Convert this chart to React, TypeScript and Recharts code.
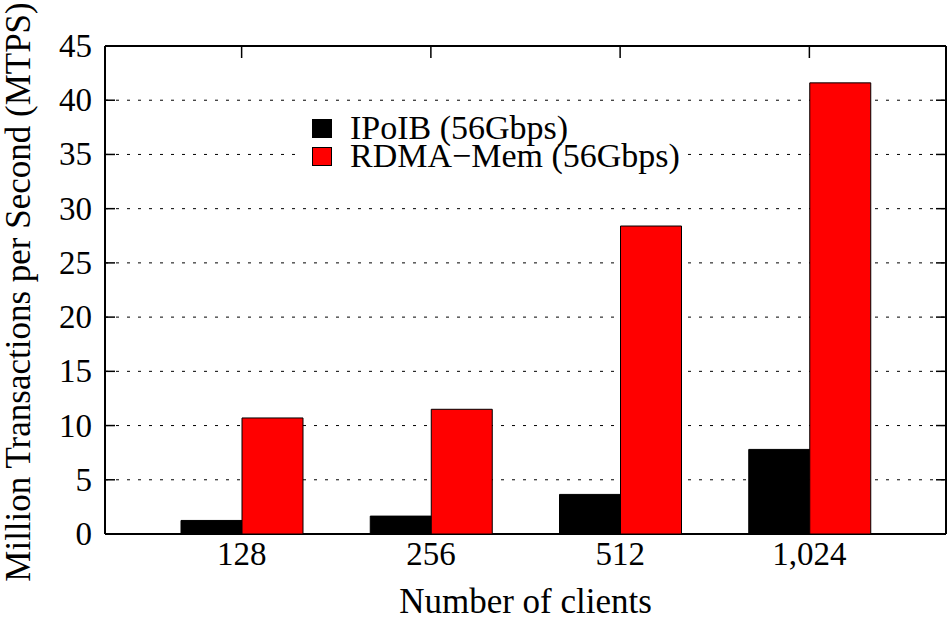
import { BarChart, Bar, XAxis, YAxis, CartesianGrid } from 'recharts';

const clients = ['128', '256', '512', '1,024'];
const ipoib = [1.25, 1.65, 3.65, 7.8];
const rdmaMem = [10.7, 11.5, 28.4, 41.6];
const yTicks = [0, 5, 10, 15, 20, 25, 30, 35, 40, 45];

const data = clients.map((c, i) => ({ clients: c, ipoib: ipoib[i], rdma: rdmaMem[i] }));

// plot frame (matches margins below)
const PL = 105;
const PR = 946;
const PT = 46;
const PB = 534;
const FONT = '"Liberation Serif", "DejaVu Serif", serif';

function YTick(props: any) {
  const { y, payload } = props;
  return (
    <g>
      <line x1={PL} x2={PL + 10} y1={y} y2={y} stroke="#000" strokeWidth={1.5} />
      <line x1={PR - 10} x2={PR} y1={y} y2={y} stroke="#000" strokeWidth={1.5} />
      <text x={92} y={y + 11} textAnchor="end" fontFamily={FONT} fontSize={33} fill="#000">
        {payload.value}
      </text>
    </g>
  );
}

function XTick(props: any) {
  const { x, payload } = props;
  return (
    <g>
      <line x1={x} x2={x} y1={PT} y2={PT + 12} stroke="#000" strokeWidth={1.5} />
      <text x={x} y={565} textAnchor="middle" fontFamily={FONT} fontSize={33} fill="#000">
        {payload.value}
      </text>
    </g>
  );
}

function LegendBox() {
  const items = [
    { label: 'IPoIB (56Gbps)', color: '#000000' },
    { label: 'RDMA\u2212Mem (56Gbps)', color: '#ff0000' },
  ];
  return (
    <div
      style={{
        position: 'absolute',
        left: 296,
        top: 112,
        background: '#fff',
        padding: '2px 8px 2px 16px',
        fontFamily: FONT,
        fontSize: 34,
        lineHeight: '28px',
      }}
    >
      {items.map((it) => (
        <div key={it.label} style={{ display: 'flex', alignItems: 'center', height: 28 }}>
          <span
            style={{
              display: 'inline-block',
              width: 20,
              height: 19,
              background: it.color,
              border: '1px solid #000',
              boxSizing: 'border-box',
              marginRight: 18,
            }}
          />
          <span>{it.label}</span>
        </div>
      ))}
    </div>
  );
}

function YLabel() {
  return (
    <text
      x={0}
      y={0}
      transform="translate(30,292) rotate(-90)"
      textAnchor="middle"
      fontFamily={FONT}
      fontSize={35}
      fill="#000"
    >
      Million Transactions per Second (MTPS)
    </text>
  );
}

export default function App() {
  return (
    <div style={{ position: 'absolute', left: 0, top: 0, width: 950, height: 620, background: '#fff' }}>
      <BarChart
        width={950}
        height={620}
        data={data}
        margin={{ top: PT, right: 950 - PR, left: 0, bottom: 0 }}
        barSize={61}
        barGap={0}
      >
        <CartesianGrid vertical={false} stroke="#000" strokeDasharray="3 8" strokeWidth={1} />
        <XAxis
          dataKey="clients"
          height={620 - PB}
          padding={{ left: 42, right: 42 }}
          tickLine={false}
          axisLine={false}
          tick={<XTick />}
          interval={0}
          label={{
            value: 'Number of clients',
            position: 'insideBottom',
            offset: 7,
            style: { fontFamily: FONT, fontSize: 35, fill: '#000' },
          }}
        />
        <YAxis
          width={PL}
          domain={[0, 45]}
          ticks={yTicks}
          interval={0}
          tickLine={false}
          axisLine={false}
          tick={<YTick />}
          label={<YLabel />}
        />
        <Bar dataKey="ipoib" name="IPoIB (56Gbps)" fill="#000000" stroke="#000" strokeWidth={1} isAnimationActive={false} />
        <Bar dataKey="rdma" name="RDMA-Mem (56Gbps)" fill="#ff0000" stroke="#000" strokeWidth={1} isAnimationActive={false} />
        {/* solid frame round the plot */}
        <CartesianGrid
          horizontalPoints={[PT, PB]}
          verticalPoints={[PL, PR]}
          stroke="#000"
          strokeWidth={2}
        />
      </BarChart>
      <LegendBox />
    </div>
  );
}
